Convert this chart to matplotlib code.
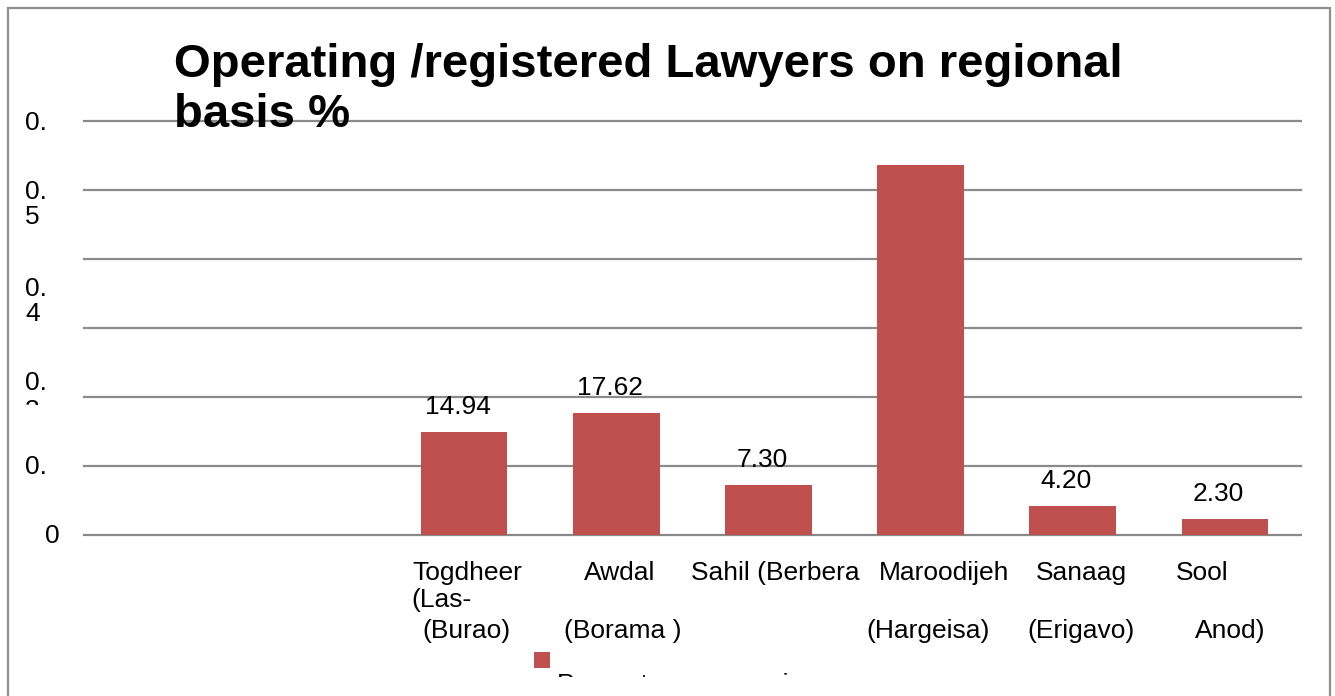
import matplotlib
matplotlib.use("Agg")
import matplotlib.pyplot as plt
import matplotlib.transforms as mtransforms
from matplotlib.patches import Rectangle

plt.rcParams['font.family'] = ['Liberation Sans', 'DejaVu Sans']

# ---------------- data ----------------
title_lines = ["Operating /registered Lawyers on regional", "basis %"]
categories = ["", "", "Togdheer", "Awdal", "Sahil (Berbera", "Maroodijeh", "Sanaag", "Sool"]
category_line2 = ["", "", "(Las-", "", "", "", "", ""]
category_line3 = ["", "", "(Burao)", "(Borama )", "", "(Hargeisa)", "(Erigavo)", "Anod)"]
values = [0, 0, 14.94, 17.62, 7.30, 53.64, 4.20, 2.30]
value_labels = ["", "", "14.94", "17.62", "7.30", "", "4.20", "2.30"]
ytick_values = [0, 10, 20, 30, 40, 50, 60]
legend_label = "Percentage per region"

# ---------------- layout ----------------
W, H = 1335, 696
fig = plt.figure(figsize=(W / 100, H / 100), dpi=100)
ax_left, ax_right, ax_top, ax_bottom = 83.5, 1301, 121, 535
ax = fig.add_axes([ax_left / W, 1 - ax_bottom / H, (ax_right - ax_left) / W, (ax_bottom - ax_top) / H])

BAR_COLOR = "#C0504D"
GRID_COLOR = "#8a8a8a"
FS = 19

x = list(range(len(categories)))
ax.bar(x, values, width=0.57, color=BAR_COLOR, zorder=3)
ax.set_xlim(-0.5, len(categories) - 0.5)
ax.set_ylim(0, 60)
ax.set_yticks(ytick_values)
ax.set_yticklabels([])
ax.set_xticks([])
ax.tick_params(length=0)
ax.yaxis.grid(True, color=GRID_COLOR, linewidth=1.6, zorder=0)
for gl in ax.get_ygridlines():
    gl.set_clip_on(False)
for s in ax.spines.values():
    s.set_visible(False)
ax.patch.set_alpha(0)

# value labels
for xi, v, lab in zip(x, values, value_labels):
    if lab:
        ax.annotate(lab, (xi, v), xytext=(-4.5, 13), textcoords="offset points",
                    ha="center", va="baseline", fontsize=FS, zorder=4)

# category labels (pixel offsets from slot centres)
slot_px = (ax_right - ax_left) / len(categories)
blend = mtransforms.blended_transform_factory(ax.transData, fig.transFigure)
line1_dx = [0, 0, 3, 3, 7, 24, 9, -23]
line3_dx = [0, 0, 2, 7, 0, 8, 8, 5]
for xi, l1, l2, l3, d1, d3 in zip(x, categories, category_line2, category_line3, line1_dx, line3_dx):
    if l1:
        fig.text(xi + d1 / slot_px, 1 - 580 / H, l1, transform=blend, ha="center",
                 va="baseline", fontsize=FS)
    if l2:
        fig.text(xi - 53 / slot_px, 1 - 607 / H, l2, transform=blend, ha="left",
                 va="baseline", fontsize=FS)
    if l3:
        fig.text(xi + d3 / slot_px, 1 - 638 / H, l3, transform=blend, ha="center",
                 va="baseline", fontsize=FS)

# y-axis labels (garbled as in the original)
def ytext(xp, yp, s, ha="left", clip_y=None):
    t = fig.text(xp / W, 1 - yp / H, s, ha=ha, va="center", fontsize=FS)
    if clip_y is not None:
        t.set_clip_box(mtransforms.Bbox.from_extents(0, H - clip_y, W, H))
        t.set_clip_on(True)
    return t

ytext(25, 123, "0.")
ytext(25, 192, "0.")
ytext(25, 217, "5")
ytext(25, 289, "0.")
ytext(25, 314, "4")
ytext(25, 383, "0.")
ytext(25, 411, "3", clip_y=405)
ytext(25, 467, "0.")
ytext(45, 536, "0")

# title
fig.text(174 / W, 1 - 77 / H, title_lines[0], fontsize=34, weight="bold", va="baseline", ha="left")
fig.text(174 / W, 1 - 127 / H, title_lines[1], fontsize=34, weight="bold", va="baseline", ha="left")

# legend (clipped like the original)
fig.patches.append(Rectangle((534 / W, 1 - 668 / H), 16 / W, 16 / H, transform=fig.transFigure,
                             facecolor=BAR_COLOR, edgecolor="none"))
lt = fig.text(557 / W, 1 - 692 / H, legend_label, fontsize=FS, va="baseline", ha="left")
lt.set_clip_box(mtransforms.Bbox.from_extents(0, H - 677, W, H))
lt.set_clip_on(True)

# outer chart border
fig.patches.append(Rectangle((8 / W, -0.1), (1330 - 8) / W, 1.1 - 8 / H, transform=fig.transFigure,
                             facecolor="none", edgecolor="#8f8f8f", linewidth=1.6))

fig.savefig("out.png", dpi=100)
